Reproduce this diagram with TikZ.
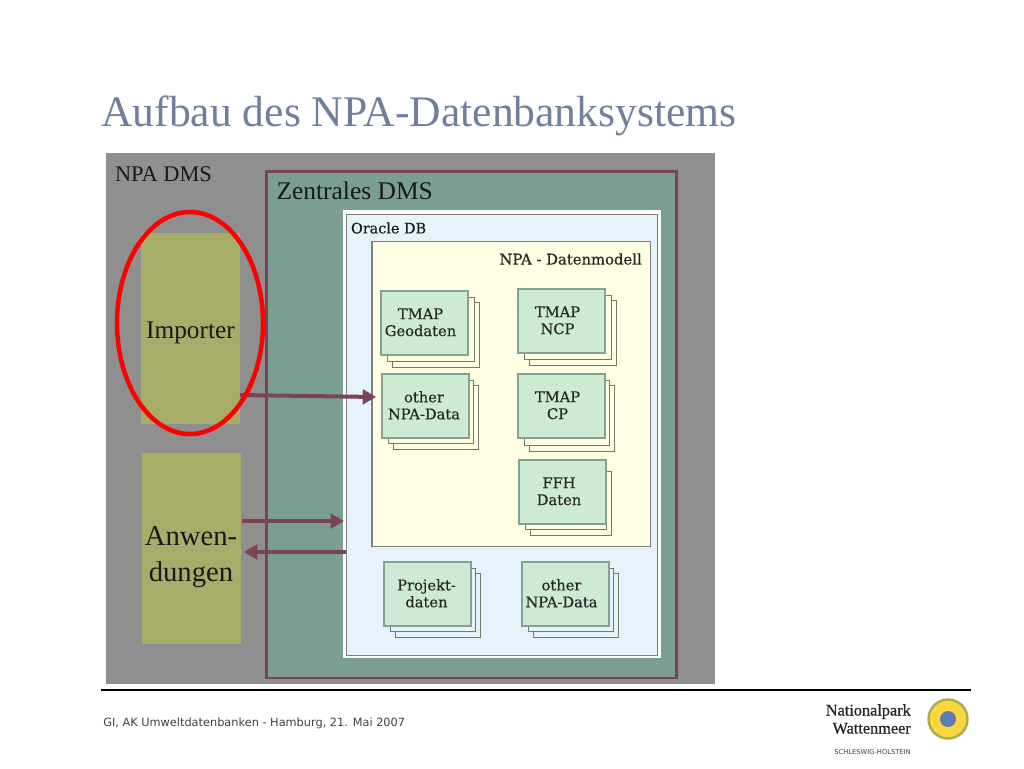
\documentclass[tikz,border=0pt]{standalone}
\usepackage{fontspec}
\setmainfont{Liberation Serif}
\setsansfont{DejaVu Sans}
\newfontfamily\lblfont{DejaVu Serif}[FakeBold=0.25]
\newfontfamily\logofont{Liberation Serif}[FakeBold=0.7]
\usetikzlibrary{arrows.meta}
\definecolor{titlec}{HTML}{717F9F}
\definecolor{outerg}{HTML}{8F8F8F}
\definecolor{tealc}{HTML}{7B9E93}
\definecolor{olivec}{HTML}{A6AD68}
\definecolor{wine}{HTML}{7A4358}
\definecolor{oraclec}{HTML}{E6F3FC}
\definecolor{modelc}{HTML}{FFFFE3}
\definecolor{boxc}{HTML}{CCEAD4}
\definecolor{boxl}{HTML}{84A193}
\definecolor{backl}{HTML}{74776A}
\definecolor{logoring}{HTML}{A8AC52}
\definecolor{logofill}{HTML}{FAD73C}
\definecolor{logoblue}{HTML}{5F7DB4}
\tikzset{
  x=0.75pt,y=-0.75pt,
  area/.style={draw=none,inner sep=0,outer sep=0,anchor=north west},
  frontbox/.style={draw=boxl,line width=0.8pt,fill=boxc,inner sep=0,outer sep=0,anchor=north west,minimum width=65.25pt,minimum height=48pt},
  boxtext/.style={inner sep=0,align=center,font=\lblfont\fontsize{11}{12.7}\selectfont,text=black!85},
  backbox/.style={draw=backl,line width=0.7pt},
  flow/.style={draw=wine,line width=3pt,-{Triangle[length=10pt,width=11pt]}},
  lbl/.style={inner sep=0,outer sep=0,anchor=west,text=black!90},
}
% name, x, y of front box, right and bottom of back box, text shift, text, fill of the back sheets
\newcommand{\stackedbox}[8]{%
  \draw[backbox,fill=#8] (#2+11,#3+11) rectangle (#4,#5);
  \draw[backbox,fill=#8] (#2+6,#3+6) rectangle (#4-5,#5-6);
  \node[frontbox] (#1) at (#2,#3) {};
  \node[boxtext,xshift=#6*0.75pt,yshift=0.5pt] (#1t) at (#1.center) {#7};
}
\begin{document}
\begin{tikzpicture}
\useasboundingbox (0,0) rectangle (1024,768);
\fill[white] (0,0) rectangle (1024,768);
\node[anchor=west,inner sep=0,text=titlec,font=\fontsize{32.7}{34}\selectfont] (title) at (101,116) {Aufbau des NPA-Datenbanksystems};
% outer
\node[area,fill=outerg,minimum width=457pt,minimum height=398.25pt] (npadms) at (106,153) {};
\node[lbl,font=\fontsize{16.8}{18}\selectfont] (npalabel) at (115,174) {NPA DMS};
\node[area,fill=tealc,draw=wine,line width=1.6pt,minimum width=307.5pt,minimum height=380pt] (zentral) at (266.5,171.5) {};
\node[lbl,font=\fontsize{19.1}{21}\selectfont] (zlabel) at (276.5,191) {Zentrales DMS};
% oracle
\node[area,fill=white,minimum width=238.5pt,minimum height=336pt] (oraclew) at (343,210) {};
\node[area,fill=oraclec,draw=black!50,line width=0.7pt,minimum width=233pt,minimum height=330.5pt] (oracle) at (346.5,214.5) {};
\node[lbl,font=\lblfont\fontsize{10.8}{12}\selectfont] (olabel) at (351,228) {Oracle DB};
\node[area,fill=modelc,draw=black!50,line width=0.8pt,minimum width=209pt,minimum height=228.5pt] (model) at (372,241.5) {};
\node[inner sep=0,anchor=east,font=\lblfont\fontsize{11.1}{12}\selectfont,text=black!85] (mlabel) at (642,259) {NPA - Datenmodell};
% stacks
\stackedbox{geo}{381}{291}{479}{367}{-4}{TMAP\\Geodaten}{modelc}
\stackedbox{ncp}{518}{289}{616}{365}{-4}{TMAP\\NCP}{modelc}
\stackedbox{other}{382}{374}{478}{449}{-1.5}{other\\NPA-Data}{modelc}
\stackedbox{cp}{518}{374}{614}{451}{-4}{TMAP\\CP}{modelc}
\stackedbox{ffh}{519}{460}{611}{535}{-3.5}{FFH\\Daten}{modelc}
\stackedbox{proj}{384}{562}{480}{637}{-1}{Projekt-\\daten}{oraclec}
\stackedbox{other2}{522}{562}{618}{637}{-4}{other\\NPA-Data}{oraclec}
% olive
\node[area,fill=olivec,minimum width=74.25pt,minimum height=143.25pt] (importer) at (141,233) {};
\node[inner sep=0,font=\fontsize{19}{21}\selectfont,text=black!90] (implabel) at (190.5,333) {Importer};
\node[area,fill=olivec,minimum width=74.25pt,minimum height=143.25pt] (anw) at (142,453) {};
\node[inner sep=0,align=center,font=\fontsize{21.5}{26.5}\selectfont,text=black!90] (anwlabel) at (191,557) {Anwen-\\dungen};
% arrows
\coordinate (imp0) at (240,395);
\coordinate (imp1) at (376,397);
\draw[flow] (imp0) -- (imp1);
\coordinate (a0) at (242,521);
\coordinate (a1) at (344,521);
\draw[flow] (a0) -- (a1);
\coordinate (b0) at (346,552);
\coordinate (b1) at (244,552);
\draw[flow] (b0) -- (b1);
% red ellipse
\draw[red,line width=3.4pt] (190,323) ellipse [x radius=73,y radius=111];
% footer
\coordinate (r0) at (101,690);
\coordinate (r1) at (971,690);
\draw[black,line width=1.4pt] (r0) -- (r1);
\node[inner sep=0,anchor=west,font=\sffamily\fontsize{8.5}{11}\selectfont,text=black!75] (foot) at (103,723) {GI, AK Umweltdatenbanken - Hamburg, 21. Mai 2007};
\node[inner sep=0,anchor=east,align=right,font=\logofont\fontsize{12.2}{13.5}\selectfont,text=black!85] (np) at (911,719) {Nationalpark\\Wattenmeer};
\node[inner sep=0,anchor=east,font=\sffamily\fontsize{5.05}{6}\selectfont,text=black!75] (sh) at (911,752) {SCHLESWIG-HOLSTEIN};
\draw[draw=logoring,fill=logofill,line width=1.8pt] (948,719) circle [radius=19.5];
\fill[logoblue] (948,719) circle [radius=8];
\end{tikzpicture}
\end{document}
